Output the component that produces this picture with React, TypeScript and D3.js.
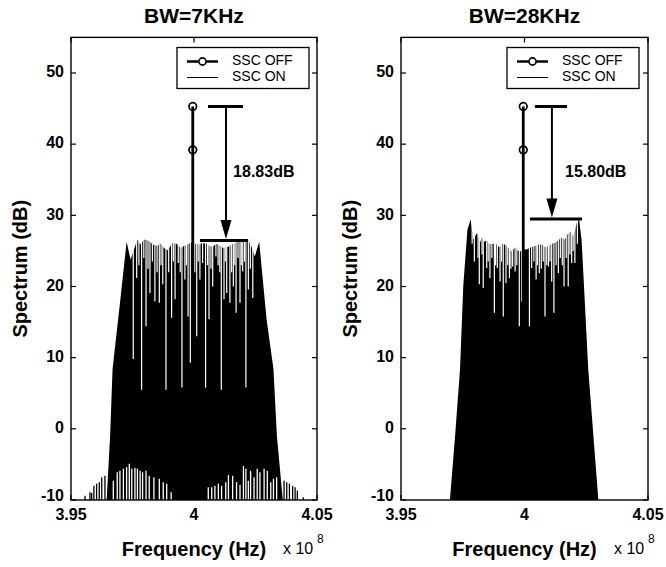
import React from 'react';
import * as d3 from 'd3';

const FONT = '"Liberation Sans", Arial, Helvetica, sans-serif';

const panelTitles = ['BW=7KHz', 'BW=28KHz'];
const xTickValues = [3.95, 4, 4.05];
const xTickLabels = ['3.95', '4', '4.05'];
const yTickValues = [-10, 0, 10, 20, 30, 40, 50];
const legendLabels = ['SSC OFF', 'SSC ON'];

// SSC OFF carrier line (frequency in 1e8 Hz, level in dB)
const offFreq = [3.9995, 3.9995, 3.9995];
const offLevel = [-12, 39.2, 45.3];

// peak drop annotation
const dropLabels = ['18.83dB', '15.80dB'];
const dropTopLevel = [45.3, 45.3];
const dropBottomLevel = [26.47, 29.5];
const dropArrowFreq = [4.013, 4.0111];
const topBarFreq = [[4.0057, 4.0199], [4.0042, 4.0172]];
const bottomBarFreq = [[4.0024, 4.022], [4.0022, 4.0233]];
const dropLabelAt = [[4.0159, 36], [4.0164, 36]];

// SSC ON, BW=7KHz: outline of the spectral lines [freq, dB]
const onEnvelope7k: [number, number][] = [
  [3.9645, -10], [3.9659, -1], [3.9669, 8.4], [3.9703, 18.9], [3.9726, 26.3], [3.9742, 23.8],
  [3.977, 26.6], [3.9781, 25.9], [3.9797, 26.6], [3.981, 26.5], [3.9821, 26.3], [3.9832, 25.9],
  [3.9851, 25.7], [3.9862, 26.1], [3.9878, 25.4], [3.9893, 25.1], [3.9912, 26.1], [3.993, 26.0],
  [3.9946, 25.4], [3.9959, 25.7], [3.9973, 25.9], [3.9991, 26.2], [4.0004, 26.0], [4.0018, 25.9],
  [4.0035, 26.1], [4.0052, 26.0], [4.0065, 25.6], [4.0079, 25.7], [4.0092, 26.0], [4.0106, 25.7],
  [4.0119, 25.4], [4.014, 25.6], [4.0153, 25.9], [4.0167, 26.1], [4.018, 26.3], [4.0194, 26.6],
  [4.0207, 26.5], [4.0221, 26.5], [4.0234, 25.6], [4.0247, 24.2], [4.0265, 26.3], [4.0295, 15.4],
  [4.0323, 8.4], [4.0337, -1], [4.0361, -10],
];
// gaps between lines reaching down from the top [freq, lowest dB]
const onNotch7k: [number, number][] = [
  [3.9753, 9.8], [3.9767, 21.2], [3.9776, 23.0], [3.9787, 5.5], [3.9796, 24.0], [3.9805, 14.4],
  [3.9813, 22.5], [3.9821, 19.1], [3.9831, 23.5], [3.9841, 17.9], [3.985, 22.0], [3.9859, 17.7],
  [3.9866, 23.0], [3.9873, 20.3], [3.9886, 5.5], [3.9897, 22.0], [3.9909, 15.6], [3.9916, 23.5],
  [3.9923, 18.2], [3.9936, 23.3], [3.9944, 22.0], [3.9951, 5.8], [3.9963, 21.0], [3.9969, 23.0],
  [3.9976, 15.8], [3.9985, 9.3], [4.0003, 22.0], [4.0011, 13.0], [4.0017, 23.5], [4.0024, 21.0],
  [4.0035, 23.3], [4.0047, 5.8], [4.0055, 23.0], [4.0061, 15.4], [4.0069, 22.5], [4.0076, 20.0],
  [4.0089, 24.2], [4.0098, 23.0], [4.0105, 22.0], [4.0111, 5.5], [4.0122, 18.2], [4.0127, 23.5],
  [4.0133, 19.1], [4.0146, 17.7], [4.0153, 22.0], [4.016, 20.0], [4.0166, 23.0], [4.0171, 16.3],
  [4.0179, 24.0], [4.0187, 17.7], [4.0192, 23.0], [4.0198, 22.1], [4.0205, 23.5], [4.0211, 5.8],
  [4.0221, 19.6], [4.0229, 22.5], [4.0239, 18.4],
];
// gaps reaching up from the floor [freq, highest dB]
const onFloorGap7k: [number, number][] = [
  [3.9672, -7.3], [3.9688, -6.1], [3.9699, -5.9], [3.9713, -5.6], [3.9726, -5.4], [3.9737, -4.9],
  [3.9747, -5.6], [3.976, -5.5], [3.977, -5.6], [3.9781, -5.9], [3.9791, -6.1], [3.9805, -5.9],
  [3.9818, -6.6], [3.9837, -6.8], [3.9859, -7.0], [3.9875, -7.5], [3.9889, -7.7], [3.9907, -8.9],
  [4.0058, -8.2], [4.0072, -8.2], [4.0085, -8.0], [4.0099, -7.7], [4.0112, -8.0], [4.0129, -7.5],
  [4.014, -6.5], [4.0157, -6.6], [4.0173, -7.5], [4.0187, -7.9], [4.0201, -5.2], [4.0211, -5.6],
  [4.0221, -7.3], [4.023, -5.9], [4.0244, -6.8], [4.0257, -5.6], [4.0268, -6.1], [4.0285, -5.6],
  [4.0298, -5.9], [4.0312, -7.5], [4.0323, -7.0], [4.0336, -6.8],
];
// low side-band lines outside the main band [freq, dB]
const onSideLine7k: [number, number][] = [
  [3.9557, -9.4], [3.9577, -8.9], [3.9584, -9.0], [3.9593, -8.0], [3.9604, -7.7], [3.9615, -7.5],
  [3.9625, -6.8], [3.9638, -6.6], [4.0366, -7.3], [4.0377, -7.5], [4.0388, -7.7], [4.0401, -8.0],
  [4.0411, -8.2], [4.042, -8.7], [4.0444, -9.6],
];

// SSC ON, BW=28KHz
const onEnvelope28k: [number, number][] = [
  [3.9698, -10], [3.9719, -1], [3.9739, 8.4], [3.9752, 20.0], [3.9769, 28.0], [3.9782, 29.4],
  [3.9793, 26.6], [3.9804, 27.3], [3.9809, 27.5], [3.982, 26.1], [3.9827, 27.0], [3.9836, 26.3],
  [3.9847, 26.5], [3.986, 25.9], [3.9874, 26.0], [3.9885, 26.0], [3.9898, 25.5], [3.9912, 26.0],
  [3.9921, 25.9], [3.9935, 25.4], [3.9948, 24.9], [3.9962, 25.5], [3.9971, 25.1], [3.9982, 24.9],
  [3.9998, 25.2], [4.0009, 25.2], [4.002, 25.4], [4.0033, 25.6], [4.0043, 25.7], [4.0056, 25.9],
  [4.007, 25.9], [4.0083, 25.5], [4.0097, 25.7], [4.011, 26.0], [4.0123, 26.1], [4.0137, 26.5],
  [4.015, 26.9], [4.0164, 26.6], [4.0173, 27.3], [4.0187, 27.7], [4.0198, 27.0], [4.0211, 28.9],
  [4.0221, 29.4], [4.0231, 26.6], [4.0241, 20.0], [4.0258, 8.4], [4.0279, -1], [4.0299, -10],
];
const onNotch28k: [number, number][] = [
  [3.9788, 26.0], [3.9797, 23.5], [3.9812, 24.0], [3.9817, 20.3], [3.9828, 24.5], [3.9833, 19.8],
  [3.9847, 22.6], [3.9853, 23.5], [3.986, 21.2], [3.9868, 24.0], [3.9878, 16.3], [3.9883, 23.0],
  [3.989, 22.6], [3.9901, 20.7], [3.9907, 23.5], [3.9914, 15.8], [3.9925, 20.5], [3.9932, 23.0],
  [3.9939, 21.2], [3.9945, 22.5], [3.9952, 22.8], [3.9962, 22.1], [3.9969, 23.0], [3.9979, 14.4],
  [3.9989, 17.9], [4.002, 14.4], [4.0029, 22.6], [4.0038, 23.5], [4.0047, 21.0], [4.0052, 23.0],
  [4.006, 21.9], [4.0068, 22.5], [4.0076, 23.5], [4.0083, 15.8], [4.009, 23.0], [4.0097, 22.8],
  [4.0103, 23.5], [4.011, 20.7], [4.0119, 16.3], [4.0128, 23.0], [4.0137, 21.9], [4.0145, 24.0],
  [4.0153, 23.0], [4.016, 20.0], [4.0169, 24.0], [4.0177, 20.0], [4.0184, 24.5], [4.0191, 23.3],
  [4.0197, 25.0], [4.0204, 23.3], [4.0214, 26.0],
];
const onFloorGap28k: [number, number][] = [];
const onSideLine28k: [number, number][] = [];

const PLOT_TOP = 37.4;
const PLOT_BOTTOM = 500;
const panelSpans = [[71, 317], [401, 648]];

type PanelProps = {
  i: number;
  envelope: [number, number][];
  notches: [number, number][];
  floorGaps: [number, number][];
  sideLines: [number, number][];
};

function Panel({ i, envelope, notches, floorGaps, sideLines }: PanelProps) {
  const [x0, x1] = panelSpans[i];
  const x = d3.scaleLinear().domain([3.95, 4.05]).range([x0, x1]);
  const y = d3.scaleLinear().domain([-10, 55]).range([PLOT_BOTTOM, PLOT_TOP]);
  const area = d3
    .area<[number, number]>()
    .x((d) => x(d[0]))
    .y0(y(-10))
    .y1((d) => y(d[1]));
  const offLine = d3
    .line<number>()
    .x((_, k) => x(offFreq[k]))
    .y((d) => y(d));
  const cx = (x0 + x1) / 2;
  const clipId = `clip${i}`;
  const aF = dropArrowFreq[i];
  const yTop = y(dropTopLevel[i]);
  const yBot = y(dropBottomLevel[i]);
  const headH = 19;
  const headW = 5.5;
  const legX = x0 + 106;
  return (
    <g>
      <defs>
        <clipPath id={clipId}>
          <rect x={x0} y={PLOT_TOP} width={x1 - x0} height={PLOT_BOTTOM - PLOT_TOP} />
        </clipPath>
      </defs>
      <text x={cx} y={23} textAnchor="middle" fontFamily={FONT} fontWeight="bold" fontSize={21}>
        {panelTitles[i]}
      </text>
      <g clipPath={`url(#${clipId})`}>
        <path d={area(envelope) ?? ''} fill="#000" />
        {notches.map((d, k) => (
          <line key={'n' + k} x1={x(d[0])} x2={x(d[0])} y1={y(31)} y2={y(d[1])} stroke="#fff" strokeWidth={1.2} />
        ))}
        {floorGaps.map((d, k) => (
          <line key={'f' + k} x1={x(d[0])} x2={x(d[0])} y1={y(-10)} y2={y(d[1])} stroke="#fff" strokeWidth={1.3} />
        ))}
        {sideLines.map((d, k) => (
          <line key={'s' + k} x1={x(d[0])} x2={x(d[0])} y1={y(-10)} y2={y(d[1])} stroke="#000" strokeWidth={1.3} />
        ))}
        <path d={offLine(offLevel) ?? ''} fill="none" stroke="#000" strokeWidth={2.8} />
        {offLevel.map((v, k) =>
          v >= -10 ? (
            <circle key={'c' + k} cx={x(offFreq[k])} cy={y(v)} r={3.8} fill="none" stroke="#000" strokeWidth={1.7} />
          ) : null
        )}
      </g>
      {/* drop annotation */}
      <line x1={x(topBarFreq[i][0])} x2={x(topBarFreq[i][1])} y1={yTop} y2={yTop} stroke="#000" strokeWidth={3} />
      <line x1={x(aF)} x2={x(aF)} y1={yTop} y2={yBot - headH} stroke="#000" strokeWidth={2} />
      <path
        d={`M${x(aF) - headW},${yBot - 1.5 - headH} L${x(aF) + headW},${yBot - 1.5 - headH} L${x(aF)},${yBot - 1.5} Z`}
        fill="#000"
      />
      <line x1={x(bottomBarFreq[i][0])} x2={x(bottomBarFreq[i][1])} y1={yBot} y2={yBot} stroke="#000" strokeWidth={3} />
      <text
        x={x(dropLabelAt[i][0])}
        y={y(dropLabelAt[i][1])}
        dominantBaseline="middle"
        fontFamily={FONT}
        fontWeight="bold"
        fontSize={16}
      >
        {dropLabels[i]}
      </text>
      {/* axes box */}
      <rect x={x0} y={PLOT_TOP} width={x1 - x0} height={PLOT_BOTTOM - PLOT_TOP} fill="none" stroke="#000" strokeWidth={1.4} />
      {yTickValues.map((t) => (
        <g key={'yt' + t}>
          <line x1={x0} x2={x0 + 5} y1={y(t)} y2={y(t)} stroke="#000" strokeWidth={1.2} />
          <line x1={x1 - 5} x2={x1} y1={y(t)} y2={y(t)} stroke="#000" strokeWidth={1.2} />
          <text
            x={x0 - 7}
            y={y(t) + (t === -10 ? -3 : 0)}
            textAnchor="end"
            dominantBaseline="middle"
            fontFamily={FONT}
            fontWeight="bold"
            fontSize={16}
          >
            {t}
          </text>
        </g>
      ))}
      {xTickValues.map((t, k) => (
        <g key={'xt' + t}>
          <line x1={x(t)} x2={x(t)} y1={PLOT_BOTTOM} y2={PLOT_BOTTOM - 5} stroke="#000" strokeWidth={1.2} />
          <line x1={x(t)} x2={x(t)} y1={PLOT_TOP} y2={PLOT_TOP + 5} stroke="#000" strokeWidth={1.2} />
          <text x={x(t)} y={520} textAnchor="middle" fontFamily={FONT} fontWeight="bold" fontSize={16}>
            {xTickLabels[k]}
          </text>
        </g>
      ))}
      <text x={cx} y={556} textAnchor="middle" fontFamily={FONT} fontWeight="bold" fontSize={20}>
        Frequency (Hz)
      </text>
      <text x={x1 - 34} y={554} fontFamily={FONT} fontSize={16}>
        x 10
      </text>
      <text x={x1 - 34 + 34} y={543} fontFamily={FONT} fontSize={12}>
        8
      </text>
      <text
        transform={`translate(${x0 - 49},${(PLOT_TOP + PLOT_BOTTOM) / 2}) rotate(-90)`}
        textAnchor="middle"
        dominantBaseline="middle"
        fontFamily={FONT}
        fontWeight="bold"
        fontSize={20}
      >
        Spectrum (dB)
      </text>
      {/* legend */}
      <rect x={legX} y={47.5} width={132} height={41} fill="#fff" stroke="#000" strokeWidth={1.3} />
      <line x1={legX + 10} x2={legX + 41} y1={61.5} y2={61.5} stroke="#000" strokeWidth={2.5} />
      <circle cx={legX + 25.5} cy={61.5} r={3.6} fill="#fff" stroke="#000" strokeWidth={1.6} />
      <text x={legX + 55} y={61.5} dominantBaseline="middle" fontFamily={FONT} fontSize={14}>
        {legendLabels[0]}
      </text>
      <line x1={legX + 10} x2={legX + 41} y1={77.5} y2={77.5} stroke="#000" strokeWidth={1} />
      <text x={legX + 55} y={77.5} dominantBaseline="middle" fontFamily={FONT} fontSize={14}>
        {legendLabels[1]}
      </text>
    </g>
  );
}

export default function App() {
  return (
    <svg width={666} height={567} viewBox="0 0 666 567" style={{ display: 'block', position: 'absolute', left: 0, top: 0, background: '#fff' }}>
      <rect x={0} y={0} width={666} height={567} fill="#fff" />
      <Panel i={0} envelope={onEnvelope7k} notches={onNotch7k} floorGaps={onFloorGap7k} sideLines={onSideLine7k} />
      <Panel i={1} envelope={onEnvelope28k} notches={onNotch28k} floorGaps={onFloorGap28k} sideLines={onSideLine28k} />
    </svg>
  );
}
